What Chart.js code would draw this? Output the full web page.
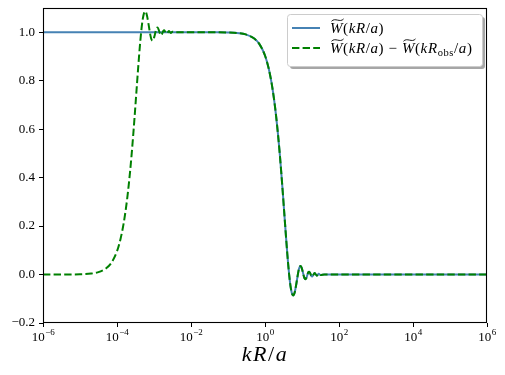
<!DOCTYPE html>
<html><head><meta charset="utf-8">
<script src="https://cdn.jsdelivr.net/npm/chart.js@4/dist/chart.umd.min.js"></script>
<style>html,body{margin:0;padding:0;background:#fff}#c{display:block}</style>
</head><body>
<canvas id="c" width="505" height="375"></canvas>
<script>
// kR/a values and W~(kR/a)
const xBlue = [1e-6, 1e-3, 0.01, 0.05, 0.1, 0.2, 0.3, 0.5, 0.7, 1, 1.25, 1.5, 1.75, 2, 2.25, 2.5, 2.75, 3, 3.25, 3.5, 3.75, 4, 4.25, 4.5, 4.75, 5, 5.4, 5.76, 6.1, 6.5, 7, 7.5, 8, 8.5, 9.1, 9.7, 10.5, 11, 11.7, 12.4, 13.2, 14, 14.8, 15.6, 16.4, 17.3, 17.9, 18.8, 19.9, 22, 25.2, 28.4, 31.5, 40, 1e6];
const yBlue = [1, 1, 1, 0.9998, 0.999, 0.996, 0.991, 0.975, 0.952, 0.904, 0.852, 0.792, 0.725, 0.653, 0.577, 0.500, 0.422, 0.346, 0.273, 0.205, 0.143, 0.087, 0.039, -0.001, -0.033, -0.057, -0.080, -0.086, -0.082, -0.067, -0.040, -0.012, 0.013, 0.029, 0.035, 0.030, 0.011, -0.002, -0.016, -0.0195, -0.013, -0.001, 0.009, 0.012, 0.008, -0.001, -0.006, -0.0085, -0.003, 0.006, -0.0047, 0.003, -0.002, 0, 0];

// kR/a values and W~(kR/a) - W~(kR_obs/a)
const xGreen = [1e-6, 1e-5, 2e-5, 3e-5, 5e-5, 7e-5, 1e-4, 1.25e-4, 1.5e-4, 1.75e-4, 2e-4, 2.25e-4, 2.5e-4, 2.75e-4, 3e-4, 3.25e-4, 3.5e-4, 3.75e-4, 4e-4, 4.25e-4, 4.5e-4, 4.75e-4, 5e-4, 5.4e-4, 5.76e-4, 6.1e-4, 6.5e-4, 7e-4, 7.5e-4, 8e-4, 8.5e-4, 9.1e-4, 9.7e-4, 1.05e-3, 1.1e-3, 1.17e-3, 1.24e-3, 1.32e-3, 1.4e-3, 1.48e-3, 1.56e-3, 1.64e-3, 1.73e-3, 1.79e-3, 1.88e-3, 1.99e-3, 2.2e-3, 2.52e-3, 2.84e-3, 3.15e-3, 4e-3, 0.01,
  0.05, 0.1, 0.2, 0.3, 0.5, 0.7, 1, 1.25, 1.5, 1.75, 2, 2.25, 2.5, 2.75, 3, 3.25, 3.5, 3.75, 4, 4.25, 4.5, 4.75, 5, 5.4, 5.76, 6.1, 6.5, 7, 7.5, 8, 8.5, 9.1, 9.7, 10.5, 11, 11.7, 12.4, 13.2, 14, 14.8, 15.6, 16.4, 17.3, 17.9, 18.8, 19.9, 22, 25.2, 28.4, 31.5, 40, 1e6];
const yGreen = [0, 0.001, 0.004, 0.009, 0.025, 0.048, 0.096, 0.148, 0.208, 0.275, 0.347, 0.423, 0.500, 0.578, 0.654, 0.727, 0.795, 0.857, 0.913, 0.961, 1.001, 1.033, 1.057, 1.080, 1.086, 1.082, 1.067, 1.040, 1.012, 0.987, 0.971, 0.965, 0.970, 0.989, 1.002, 1.016, 1.0195, 1.013, 1.001, 0.991, 0.988, 0.992, 1.001, 1.006, 1.0085, 1.003, 0.994, 1.0047, 0.997, 1.002, 1.0, 1.0,
  0.9998, 0.999, 0.996, 0.991, 0.975, 0.952, 0.904, 0.852, 0.792, 0.725, 0.653, 0.577, 0.500, 0.422, 0.346, 0.273, 0.205, 0.143, 0.087, 0.039, -0.001, -0.033, -0.057, -0.080, -0.086, -0.082, -0.067, -0.040, -0.012, 0.013, 0.029, 0.035, 0.030, 0.011, -0.002, -0.016, -0.0195, -0.013, -0.001, 0.009, 0.012, 0.008, -0.001, -0.006, -0.0085, -0.003, 0.006, -0.0047, 0.003, -0.002, 0, 0];

const xTickExponents = [-6, -4, -2, 0, 2, 4, 6];
const yTickValues = [-0.2, 0.0, 0.2, 0.4, 0.6, 0.8, 1.0];
const xAxisLabel = [{t:'k', it:true}, {t:'R', it:true}, {t:'/'}, {t:'a', it:true}];
const legendRows = [
  {color:'#4682b4', dash:[], segs:[{t:'W', it:true, tilde:true}, {t:'('}, {t:'kR', it:true}, {t:'/'}, {t:'a', it:true}, {t:')'}]},
  {color:'#008000', dash:[7.4, 3.2], segs:[{t:'W', it:true, tilde:true}, {t:'('}, {t:'kR', it:true}, {t:'/'}, {t:'a', it:true}, {t:')'}, {t:' − '}, {t:'W', it:true, tilde:true}, {t:'('}, {t:'kR', it:true}, {t:'obs', sub:true}, {t:'/'}, {t:'a', it:true}, {t:')'}]}
];

const SERIF = '"Liberation Serif", "DejaVu Serif", serif';
const sup = e => (e < 0 ? '−' : '') + Math.abs(e);

function drawMath(ctx, segs, x, y, size, spacing) {
  ctx.letterSpacing = spacing + 'px';
  for (const s of segs) {
    const fs = s.sub ? size * 0.7 : size;
    ctx.font = (s.it ? 'italic ' : '') + fs + 'px ' + SERIF;
    const dy = s.sub ? size * 0.22 : 0;
    ctx.fillText(s.t, x, y + dy);
    const w = ctx.measureText(s.t).width;
    if (s.tilde) {
      const ty = y - size * 0.86, x0 = x + 1.5, x1 = x + w + 0.5;
      ctx.save();
      ctx.lineWidth = 0.9; ctx.strokeStyle = ctx.fillStyle;
      ctx.beginPath();
      ctx.moveTo(x0, ty + 1.2);
      ctx.bezierCurveTo(x0 + (x1 - x0) * 0.3, ty - 3, x0 + (x1 - x0) * 0.7, ty + 3, x1, ty - 1.2);
      ctx.stroke();
      ctx.restore();
    }
    x += w;
  }
  ctx.letterSpacing = '0px';
  return x;
}
function mathWidth(ctx, segs, size, spacing) {
  ctx.letterSpacing = spacing + 'px';
  let w = 0;
  for (const s of segs) {
    const fs = s.sub ? size * 0.7 : size;
    ctx.font = (s.it ? 'italic ' : '') + fs + 'px ' + SERIF;
    w += ctx.measureText(s.t).width;
  }
  ctx.letterSpacing = '0px';
  return w;
}

const decor = {
  id: 'decor',
  afterDatasetsDraw(chart) {
    const ctx = chart.ctx, a = chart.chartArea;
    ctx.save();
    ctx.strokeStyle = '#000'; ctx.lineWidth = 1.1;
    ctx.strokeRect(Math.round(a.left) + 0.5, Math.round(a.top) + 0.5, Math.round(a.right - a.left) - 1, Math.round(a.bottom - a.top) - 1);
    ctx.restore();
  },
  afterDraw(chart) {
    const ctx = chart.ctx, xs = chart.scales.x;
    ctx.save();
    ctx.fillStyle = '#000';
    ctx.textBaseline = 'alphabetic';
    // x tick labels 10^n
    for (const e of xTickExponents) {
      const px = xs.getPixelForValue(Math.pow(10, e));
      ctx.font = '13px ' + SERIF;
      const wb = ctx.measureText('10').width;
      ctx.font = '9px ' + SERIF;
      const we = ctx.measureText(sup(e)).width;
      const x0 = px - (wb + we) / 2;
      ctx.font = '13px ' + SERIF;
      ctx.fillText('10', x0, 341);
      ctx.font = '9px ' + SERIF;
      ctx.fillText(sup(e), x0 + wb + 0.5, 335);
    }
    // x axis label
    const lw = mathWidth(ctx, xAxisLabel, 22, 1.5);
    drawMath(ctx, xAxisLabel, (chart.chartArea.left + chart.chartArea.right) / 2 - lw / 2, 361, 22, 1.5);

    // legend
    const bx = 287, by = 14, bw = 195, bh = 52, r = 3;
    ctx.fillStyle = 'rgba(77,77,77,0.5)';
    ctx.beginPath(); ctx.roundRect(bx + 3, by + 3, bw, bh, r); ctx.fill();
    ctx.fillStyle = '#fff';
    ctx.beginPath(); ctx.roundRect(bx + 0.5, by + 0.5, bw, bh, r); ctx.fill();
    ctx.strokeStyle = '#cccccc'; ctx.lineWidth = 1; ctx.stroke();
    legendRows.forEach((row, i) => {
      const ly = 28 + i * 20;
      ctx.save();
      ctx.strokeStyle = row.color; ctx.lineWidth = 2; ctx.setLineDash(row.dash);
      ctx.beginPath(); ctx.moveTo(292, ly); ctx.lineTo(320, ly); ctx.stroke();
      ctx.restore();
      ctx.fillStyle = '#000';
      drawMath(ctx, row.segs, 330, ly + 5, 15, 0.6);
    });
    ctx.restore();
  }
};

new Chart(document.getElementById('c'), {
  type: 'line',
  data: {
    datasets: [
      {
        label: 'W~(kR/a)',
        data: xBlue.map((x, i) => ({x, y: yBlue[i]})),
        borderColor: '#4682b4', borderWidth: 2, pointRadius: 0,
        cubicInterpolationMode: 'monotone', fill: false, order: 1
      },
      {
        label: 'W~(kR/a) - W~(kR_obs/a)',
        data: xGreen.map((x, i) => ({x, y: yGreen[i]})),
        borderColor: '#008000', borderWidth: 2, borderDash: [7.4, 3.2], pointRadius: 0,
        cubicInterpolationMode: 'monotone', fill: false, order: 0
      }
    ]
  },
  options: {
    responsive: false, animation: false, devicePixelRatio: 1,
    layout: {padding: {left: 0, right: 18, top: 8, bottom: 0}},
    plugins: {legend: {display: false}, tooltip: {enabled: false}},
    scales: {
      x: {
        type: 'logarithmic', min: 1e-6, max: 1e6,
        afterBuildTicks: s => { s.ticks = xTickExponents.map(e => ({value: Math.pow(10, e)})); },
        afterFit: s => { s.height = 52; s.paddingLeft = 0; s.paddingRight = 0; },
        ticks: {display: false},
        grid: {display: true, drawOnChartArea: false, drawTicks: true, tickLength: 4, color: '#000', lineWidth: 1},
        border: {display: false}
      },
      y: {
        type: 'linear', min: -0.2, max: 1.1,
        afterBuildTicks: s => { s.ticks = yTickValues.map(v => ({value: v})); },
        afterFit: s => { s.width = 43; s.paddingTop = 0; s.paddingBottom = 0; },
        ticks: {
          color: '#000', padding: 4,
          font: {family: SERIF, size: 13},
          callback: v => (v < -1e-9 ? '−' : '') + Math.abs(v).toFixed(1)
        },
        grid: {display: true, drawOnChartArea: false, drawTicks: true, tickLength: 4, color: '#000', lineWidth: 1},
        border: {display: false}
      }
    }
  },
  plugins: [decor]
});
</script>
</body></html>
